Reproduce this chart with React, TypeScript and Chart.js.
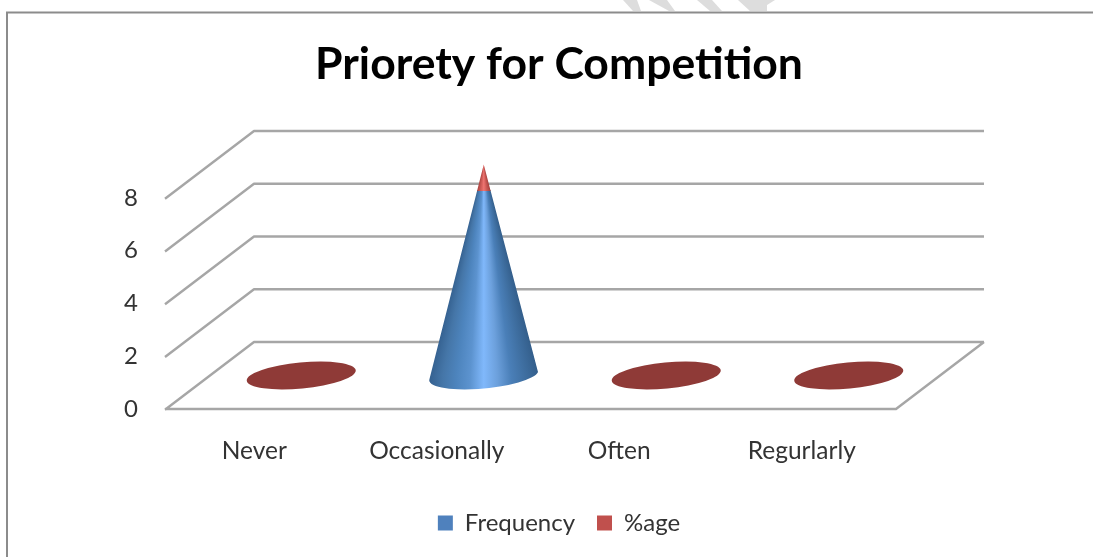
import React, { useEffect, useRef } from "react";
import { Chart, registerables } from "chart.js";

Chart.register(...registerables);

const categories = ["Never", "Occasionally", "Often", "Regurlarly"];
const frequency = [0, 7, 0, 0];
const percentage = [0, 1, 0, 0];
const axisTicks = [0, 2, 4, 6, 8];

const GRID = "#a6a6a6";
const FLAT_DISC = "#8f3a37";
const BLUE_BANDS = ["#34608f", "#4576a8", "#4d84bd", "#5c93cf", "#80b8fb", "#6ca0dc", "#4a7fb8", "#3f6fa1", "#345f8c"];
const RED_BANDS = ["#a8423f", "#bc4f4b", "#cc5a56", "#dd6662", "#ee7672", "#dd6662", "#c85753", "#b64c48", "#a8423f"];
const DEPTH_X = 88;
const DEPTH_Y = 67;
const DISC_TILT = -0.095;
const DISC_RY = 13;

// Walls and floor of the 3D box, positioned from the value scale.
function drawBox(chart: Chart) {
  const { ctx, chartArea: area } = chart;
  const y = chart.scales.y;
  ctx.save();
  ctx.strokeStyle = GRID;
  ctx.lineWidth = 2.4;
  ctx.lineJoin = "round";
  ctx.beginPath();
  axisTicks.forEach((tick) => {
    const py = y.getPixelForValue(tick);
    ctx.moveTo(area.left - 1, py + 0.7);
    ctx.lineTo(area.left + DEPTH_X, py - DEPTH_Y);
    ctx.lineTo(area.right + DEPTH_X, py - DEPTH_Y);
  });
  const y0 = y.getPixelForValue(0);
  ctx.moveTo(area.left - 1, y0);
  ctx.lineTo(area.right, y0);
  ctx.lineTo(area.right + DEPTH_X, y0 - DEPTH_Y);
  ctx.stroke();
  ctx.restore();
}

// Clip path of a cone: apex down both flanks and round the front of its base.
function coneOutline(ctx: CanvasRenderingContext2D, cx: number, baseY: number, topY: number, rx: number) {
  ctx.beginPath();
  ctx.moveTo(cx, topY);
  ctx.ellipse(cx, baseY, rx, DISC_RY, DISC_TILT, Math.PI + 0.12, 0.12, true);
  ctx.closePath();
}

// One cone per category, stacked segments shaded row by row towards the apex.
function drawCones(chart: Chart) {
  const { ctx } = chart;
  const metas = chart.data.datasets.map((_, i) => chart.getDatasetMeta(i));
  categories.forEach((_, index) => {
    const first: any = metas[0].data[index];
    const last: any = metas[metas.length - 1].data[index];
    const cx = first.x + DEPTH_X / 2;
    const shift = -DEPTH_Y / 2;
    const baseY = first.base + shift;
    const topY = last.y + shift;
    const rx = first.width / 2;
    if (baseY - topY < 1) {
      ctx.save();
      ctx.fillStyle = FLAT_DISC;
      ctx.beginPath();
      ctx.ellipse(cx, baseY, rx, DISC_RY, DISC_TILT, 0, Math.PI * 2);
      ctx.fill();
      ctx.restore();
      return;
    }
    ctx.save();
    coneOutline(ctx, cx, baseY, topY, rx);
    ctx.clip();
    metas.forEach((meta, d) => {
      const el: any = meta.data[index];
      if (el.base - el.y < 0.5) return;
      const bands = d === 0 ? BLUE_BANDS : RED_BANDS;
      const from = Math.floor(el.y + shift);
      const to = d === 0 ? Math.ceil(baseY + DISC_RY + 2) : Math.ceil(el.base + shift);
      for (let row = from; row < to; row++) {
        const half = Math.max(1, rx * Math.min(1, (row + 0.5 - topY) / (baseY - topY)));
        const g = ctx.createLinearGradient(cx - half, 0, cx + half, 0);
        bands.forEach((c, i) => g.addColorStop(i / (bands.length - 1), c));
        ctx.fillStyle = g;
        ctx.fillRect(cx - half - 1, row, half * 2 + 2, 1);
      }
    });
    ctx.restore();
  });
}

// Faint strokes of the page stamp that show above the chart's frame.
function drawStamp(ctx: CanvasRenderingContext2D) {
  const strokes = [
    [[623, 0], [637, 0], [641, 11], [633, 11]],
    [[649, 0], [667, 0], [675, 11], [669, 11]],
    [[697, 0], [712, 0], [722, 11], [710, 11]],
    [[738, 0], [775, 0], [767, 5], [767, 11], [750, 11]],
  ];
  ctx.fillStyle = "#dddddd";
  strokes.forEach((pts) => {
    ctx.beginPath();
    pts.forEach(([x, y], i) => (i ? ctx.lineTo(x, y) : ctx.moveTo(x, y)));
    ctx.closePath();
    ctx.fill();
  });
}

const boxAndCones = {
  id: "boxAndCones",
  beforeDraw(chart: Chart) {
    const { ctx, width, height } = chart;
    ctx.save();
    ctx.fillStyle = "#ffffff";
    ctx.fillRect(0, 0, width, height);
    drawStamp(ctx);
    // Frame of the chart object: top and left edges only.
    ctx.strokeStyle = "#8c8c8c";
    ctx.lineWidth = 2;
    ctx.beginPath();
    ctx.moveTo(7, height);
    ctx.lineTo(7, 12.5);
    ctx.lineTo(width, 12.5);
    ctx.stroke();
    ctx.restore();
  },
  beforeDatasetsDraw(chart: Chart) {
    drawBox(chart);
    drawCones(chart);
  },
  // The cones above replace the flat bars.
  beforeDatasetDraw() {
    return false;
  },
};

const FONT = "Lato, 'Open Sans', sans-serif";
const TEXT = "#333333";

export default function App() {
  const ref = useRef<HTMLCanvasElement>(null);
  useEffect(() => {
    if (!ref.current) return;
    const chart = new Chart(ref.current, {
      type: "bar",
      plugins: [boxAndCones],
      data: {
        labels: categories,
        datasets: [
          { label: "Frequency", data: frequency, backgroundColor: "#4f81bd", borderWidth: 0 },
          { label: "%age", data: percentage, backgroundColor: "#c0504d", borderWidth: 0 },
        ],
      },
      options: {
        responsive: false,
        animation: false,
        categoryPercentage: 0.6,
        barPercentage: 1,
        layout: { padding: { top: 38, bottom: 12, left: 25, right: 0 } },
        plugins: {
          tooltip: { enabled: false },
          title: {
            display: true,
            text: "Priorety for Competition",
            color: "#000000",
            font: { family: FONT, size: 44.5, weight: "bold", lineHeight: 1.2 },
            padding: { top: 0, bottom: 106.6 },
          },
          legend: {
            position: "bottom",
            labels: {
              color: TEXT,
              font: { family: FONT, size: 24 },
              boxWidth: 15,
              boxHeight: 15,
              padding: 22,
            },
          },
        },
        scales: {
          x: {
            stacked: true,
            grid: { display: false },
            border: { display: false },
            afterFit(scale: any) {
              scale.height = 80;
            },
            ticks: { color: TEXT, padding: 19, labelOffset: -3, font: { family: FONT, size: 24.5 } },
          },
          y: {
            stacked: true,
            min: 0,
            max: 8,
            grid: { display: false, drawTicks: false },
            border: { display: false },
            afterFit(scale: any) {
              scale.width = 141;
            },
            afterBuildTicks(scale: any) {
              scale.ticks = axisTicks.map((value) => ({ value }));
            },
            ticks: { color: TEXT, padding: 28, font: { family: FONT, size: 24 } },
          },
          // Blank margin on the right, beside the plot, that the floor's depth runs into.
          margin: {
            position: "right",
            grid: { display: false },
            border: { display: false },
            ticks: { display: false },
            afterFit(scale: any) {
              scale.width = 197;
            },
          },
        },
      } as any,
    });
    return () => chart.destroy();
  }, []);
  return (
    <div style={{ position: "absolute", left: 0, top: 0, width: 1093, height: 557 }}>
      <canvas ref={ref} width={1093} height={557} style={{ display: "block" }} />
    </div>
  );
}
